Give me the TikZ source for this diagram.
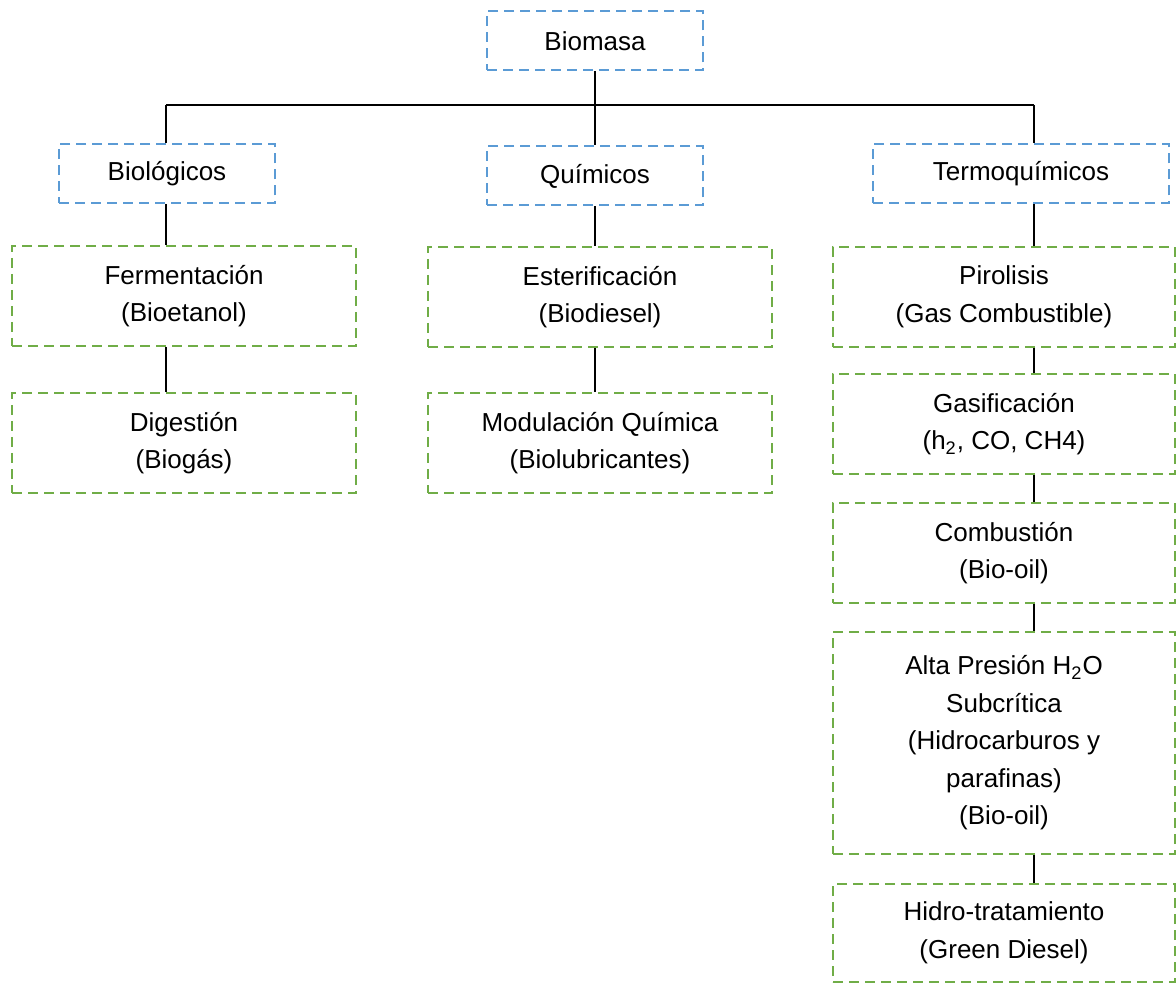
\documentclass[tikz,border=0pt]{standalone}
\usepackage{fontspec}
\setmainfont{Liberation Sans}
\begin{document}
\begin{tikzpicture}[x=0.5pt,y=-0.5pt,font=\fontsize{13}{18.75}\selectfont,
tipo/.style={draw=azul,dash pattern=on 5pt off 3pt,line width=1pt,minimum width=108pt,minimum height=29.5pt,align=center},
proceso/.style={draw=verde,dash pattern=on 5pt off 3pt,line width=1pt,minimum width=172pt,minimum height=50pt,align=center},
rama/.style={line width=0.7pt}]
\definecolor{azul}{RGB}{91,155,213}
\definecolor{verde}{RGB}{112,173,71}
\useasboundingbox (0,0) rectangle (1176,983);
\node[tipo] (biomasa) at (595,41) {Biomasa};
\node[tipo] (biol) at (167,174) {Biológicos};
\node[tipo] (quim) at (595,176) {Químicos};
\node[tipo,minimum width=148pt] (termo) at (1021,174) {Termoquímicos};
\node[proceso] (ferm) at (184,296) {Fermentación\\(Bioetanol)};
\node[proceso] (dig) at (184,443) {Digestión\\(Biogás)};
\node[proceso] (ester) at (600,297) {Esterificación\\(Biodiesel)};
\node[proceso] (modul) at (600,443) {Modulación Química\\(Biolubricantes)};
\node[proceso,minimum width=171pt] (piro) at (1004,297) {Pirolisis\\(Gas Combustible)};
\node[proceso,minimum width=171pt] (gasif) at (1004,424) {Gasificación\\(h\textsubscript{2}, CO, CH4)};
\node[proceso,minimum width=171pt] (comb) at (1004,553) {Combustión\\(Bio-oil)};
\node[proceso,minimum width=171pt,minimum height=111pt] (alta) at (1004,743) {Alta Presión H\textsubscript{2}O\\Subcrítica\\(Hidrocarburos y\\parafinas)\\(Bio-oil)};
\node[proceso,minimum width=171pt,minimum height=49pt] (hidro) at (1004,933) {Hidro-tratamiento\\(Green Diesel)};
% ramas
\coordinate (izq) at (166,105);
\coordinate (der) at (1034,105);
\draw[rama] (izq) -- (der);
\draw[rama] (biomasa) -- (quim);
\draw[rama] (izq) -- (izq |- biol.north);
\draw[rama] (der) -- (der |- termo.north);
\draw[rama] (biol.south -| izq) -- (ferm.north -| izq);
\draw[rama] (ferm.south -| izq) -- (dig.north -| izq);
\draw[rama] (quim.south -| biomasa) -- (ester.north -| biomasa);
\draw[rama] (ester.south -| biomasa) -- (modul.north -| biomasa);
\draw[rama] (termo.south -| der) -- (piro.north -| der);
\draw[rama] (piro.south -| der) -- (gasif.north -| der);
\draw[rama] (gasif.south -| der) -- (comb.north -| der);
\draw[rama] (comb.south -| der) -- (alta.north -| der);
\draw[rama] (alta.south -| der) -- (hidro.north -| der);
\end{tikzpicture}
\end{document}
